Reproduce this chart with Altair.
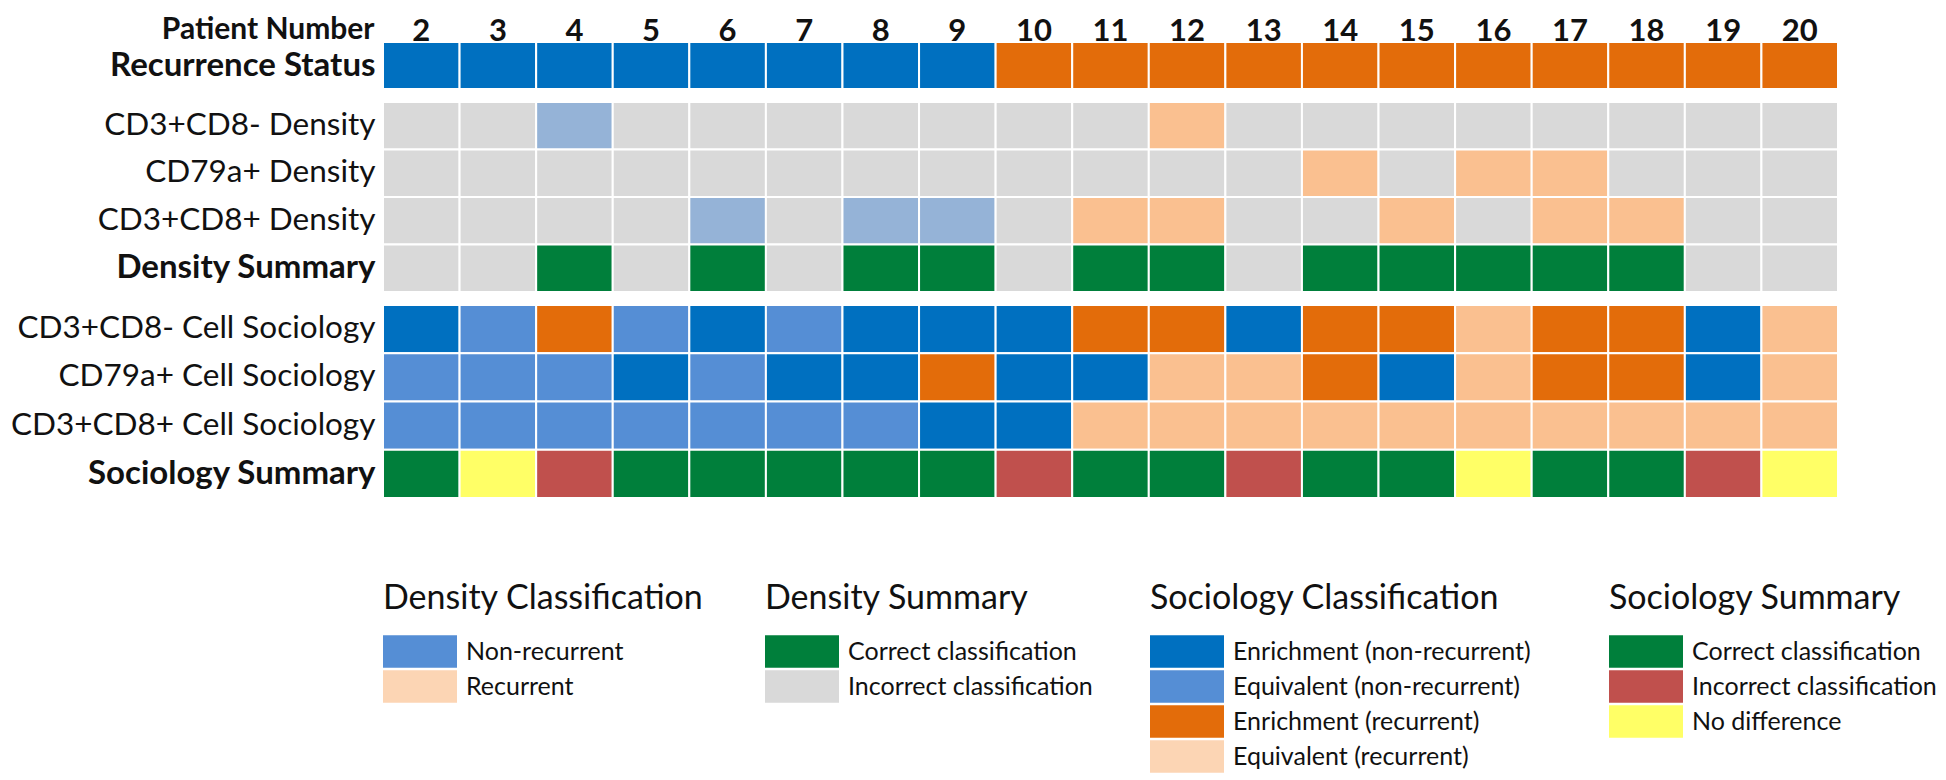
import altair as alt
import pandas as pd

FONT = "Lato"
TXT = "#111111"

# ---------------- data ----------------
patients = [2, 3, 4, 5, 6, 7, 8, 9, 10, 11, 12, 13, 14, 15, 16, 17, 18, 19, 20]

recurrence_status = ["NR", "NR", "NR", "NR", "NR", "NR", "NR", "NR",
                     "R", "R", "R", "R", "R", "R", "R", "R", "R", "R", "R"]

cd3cd8neg_density = ["-", "-", "NR", "-", "-", "-", "-", "-", "-", "-", "R", "-", "-", "-", "-", "-", "-", "-", "-"]
cd79a_density     = ["-", "-", "-", "-", "-", "-", "-", "-", "-", "-", "-", "-", "R", "-", "R", "R", "-", "-", "-"]
cd3cd8pos_density = ["-", "-", "-", "-", "NR", "-", "NR", "NR", "-", "R", "R", "-", "-", "R", "-", "R", "R", "-", "-"]
density_summary   = ["I", "I", "C", "I", "C", "I", "C", "C", "I", "C", "C", "I", "C", "C", "C", "C", "C", "I", "I"]

cd3cd8neg_sociology = ["EnN", "EqN", "EnR", "EqN", "EnN", "EqN", "EnN", "EnN", "EnN", "EnR",
                       "EnR", "EnN", "EnR", "EnR", "EqR", "EnR", "EnR", "EnN", "EqR"]
cd79a_sociology     = ["EqN", "EqN", "EqN", "EnN", "EqN", "EnN", "EnN", "EnR", "EnN", "EnN",
                       "EqR", "EqR", "EnR", "EnN", "EqR", "EnR", "EnR", "EnN", "EqR"]
cd3cd8pos_sociology = ["EqN", "EqN", "EqN", "EqN", "EqN", "EqN", "EqN", "EnN", "EnN", "EqR",
                       "EqR", "EqR", "EqR", "EqR", "EqR", "EqR", "EqR", "EqR", "EqR"]
sociology_summary   = ["C", "ND", "I", "C", "C", "C", "C", "C", "I", "C",
                       "C", "I", "C", "C", "ND", "C", "C", "I", "ND"]

rows_rec = ["Recurrence Status"]
rows_density = ["CD3+CD8- Density", "CD79a+ Density", "CD3+CD8+ Density", "Density Summary"]
rows_soc = ["CD3+CD8- Cell Sociology", "CD79a+ Cell Sociology", "CD3+CD8+ Cell Sociology", "Sociology Summary"]

# cell colours
cell_keys = ["rec:NR", "rec:R", "den:NR", "den:R", "den:-", "dsum:C", "dsum:I",
             "soc:EnN", "soc:EqN", "soc:EnR", "soc:EqR", "ssum:C", "ssum:I", "ssum:ND"]
cell_colors = ["#0070C0", "#E36C0A", "#95B3D7", "#FAC090", "#D9D9D9", "#007F3B", "#D9D9D9",
               "#0070C0", "#558ED5", "#E36C0A", "#FAC090", "#007F3B", "#C0504D", "#FFFF66"]

# legends
leg_dens_labels = ["Non-recurrent", "Recurrent"]
leg_dens_colors = ["#558ED5", "#FCD5B4"]
leg_dsum_labels = ["Correct classification", "Incorrect classification"]
leg_dsum_colors = ["#007F3B", "#D9D9D9"]
leg_soc_labels = ["Enrichment (non-recurrent)", "Equivalent (non-recurrent)",
                  "Enrichment (recurrent)", "Equivalent (recurrent)"]
leg_soc_colors = ["#0070C0", "#558ED5", "#E36C0A", "#FCD5B4"]
leg_ssum_labels = ["Correct classification", "Incorrect classification", "No difference"]
leg_ssum_colors = ["#007F3B", "#C0504D", "#FFFF66"]


def long_table(rows, kinds, series):
    recs = []
    for r, k, s in zip(rows, kinds, series):
        for p, c in zip(patients, s):
            recs.append({"row": r, "patient": p, "cat": f"{k}:{c}"})
    return pd.DataFrame(recs)


df_rec = long_table(rows_rec, ["rec"], [recurrence_status])
df_den = long_table(rows_density, ["den", "den", "den", "dsum"],
                    [cd3cd8neg_density, cd79a_density, cd3cd8pos_density, density_summary])
df_soc = long_table(rows_soc, ["soc", "soc", "soc", "ssum"],
                    [cd3cd8neg_sociology, cd79a_sociology, cd3cd8pos_sociology, sociology_summary])

cell_scale = alt.Scale(domain=cell_keys, range=cell_colors)
x_scale = alt.Scale(paddingInner=0, paddingOuter=0)

GRID_W = 1455


def y_axis(bold_test):
    weight = {"condition": {"test": bold_test, "value": "bold"}, "value": "normal"}
    size = {"condition": {"test": bold_test, "value": 33}, "value": 31.5}
    return alt.Axis(title=None, ticks=False, domain=False, labelPadding=8, labelLimit=600,
                    labelFont=FONT, labelFontSize=size, labelColor=TXT, labelFontWeight=weight,
                    minExtent=375, maxExtent=375)


def grid(df, rows, xaxis, bold_test):
    return alt.Chart(df).mark_rect(stroke="white", strokeWidth=2).encode(
        x=alt.X("patient:O", scale=x_scale, axis=xaxis),
        y=alt.Y("row:N", sort=rows, axis=y_axis(bold_test)),
        color=alt.Color("cat:N", scale=cell_scale, legend=None),
    )


top_axis = alt.Axis(orient="top", title="Patient Number", titleFont=FONT, titleFontSize=30,
                    titleFontWeight="bold", titleColor=TXT, titleAngle=0, titleAlign="right",
                    titleBaseline="alphabetic", titleX=-9, titleY=-4,
                    labelFont=FONT, labelFontSize=31, labelFontWeight="bold", labelColor=TXT,
                    labelAngle=0, labelBaseline="alphabetic", labelPadding=2,
                    ticks=False, tickSize=0, domain=False)

rec = grid(df_rec, rows_rec, top_axis, "true").properties(width=GRID_W, height=47)
den = grid(df_den, rows_density, None, "datum.value == 'Density Summary'").properties(width=GRID_W, height=190)
soc_grid = grid(df_soc, rows_soc, None, "datum.value == 'Sociology Summary'")

PATH = "M-1,-0.44H1V0.44H-1Z"


def legend_layer(title, labels, colors, lx):
    d = pd.DataFrame({"label": labels})
    return alt.Chart(d).mark_rect(opacity=0).encode(
        color=alt.Color("label:N", sort=labels, scale=alt.Scale(domain=labels, range=colors),
                        legend=alt.Legend(title=title, orient="none", legendX=lx, legendY=277,
                                          direction="vertical", padding=0, offset=0,
                                          symbolType=PATH, symbolSize=5476, symbolOpacity=1,
                                          symbolStrokeWidth=0, clipHeight=33, rowPadding=2,
                                          labelOffset=9, titlePadding=19, titleLimit=600,
                                          titleFont=FONT, titleFontSize=34, titleFontWeight="normal",
                                          titleColor=TXT, titleAnchor="start",
                                          labelFont=FONT, labelFontSize=25, labelColor=TXT,
                                          labelLimit=500))
    )


soc = alt.layer(
    soc_grid,
    legend_layer("Density Classification", leg_dens_labels, leg_dens_colors, 0),
    legend_layer("Density Summary", leg_dsum_labels, leg_dsum_colors, 382),
    legend_layer("Sociology Classification", leg_soc_labels, leg_soc_colors, 767),
    legend_layer("Sociology Summary", leg_ssum_labels, leg_ssum_colors, 1226),
).resolve_scale(color="independent").properties(width=GRID_W, height=193)

chart = alt.vconcat(rec, den, soc, spacing=11).resolve_scale(
    color="independent"
).properties(padding={"top": 6, "left": 0, "right": 0, "bottom": 0}).configure_view(stroke=None)

chart.save("out.html", embed_options={"renderer": "svg", "actions": False})
